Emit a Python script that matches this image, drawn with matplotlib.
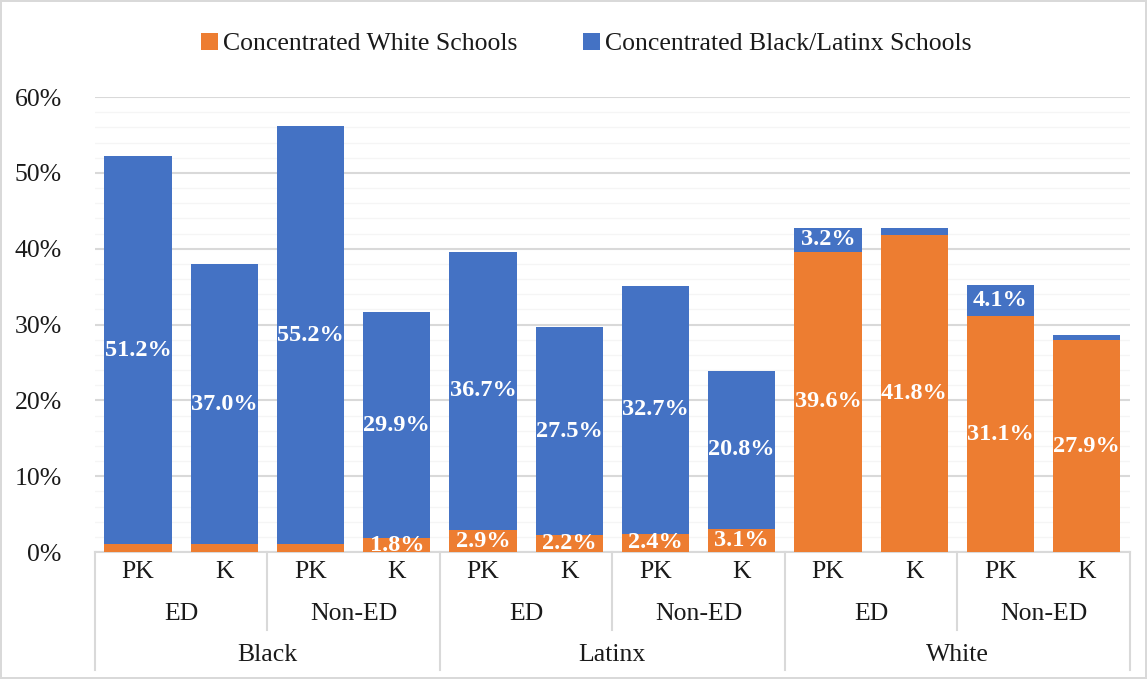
import matplotlib
matplotlib.use('Agg')
import matplotlib.pyplot as plt
import numpy as np

plt.rcParams['font.family'] = ['Liberation Serif', 'DejaVu Serif']

# 数据
races = ['Black', 'Latinx', 'White']
ed_groups = ['ED', 'Non-ED']
grades = ['PK', 'K']
white_schools = [1.0, 1.0, 1.0, 1.8, 2.9, 2.2, 2.4, 3.1, 39.6, 41.8, 31.1, 27.9]
bl_schools = [51.2, 37.0, 55.2, 29.9, 36.7, 27.5, 32.7, 20.8, 3.2, 1.0, 4.1, 0.7]

ORANGE = '#ED7D31'
BLUE = '#4472C4'
GRID = '#d9d9d9'
TXT = '#1a1a1a'
FS = 18.5

fig = plt.figure(figsize=(11.47, 6.79), dpi=100)
fig.patch.set_edgecolor(GRID)
fig.patch.set_linewidth(1.5)
ax = fig.add_axes([0.0828, 0.187, 0.9022, 0.670])

x = np.arange(len(white_schools))
w = np.array(white_schools)
b = np.array(bl_schools)
ax.bar(x, w, width=0.78, color=ORANGE, label='Concentrated White Schools', zorder=3)
ax.bar(x, b, width=0.78, bottom=w, color=BLUE, label='Concentrated Black/Latinx Schools', zorder=3)

# 数值标签
for i in range(len(x)):
    if w[i] >= 1.5:
        ax.text(x[i], w[i] / 2, f'{w[i]:.1f}%', ha='center', va='center', color='white',
                fontsize=17.5, fontweight='bold', zorder=4, clip_on=True)
    if b[i] >= 1.5:
        ax.text(x[i], w[i] + b[i] / 2, f'{b[i]:.1f}%', ha='center', va='center', color='white',
                fontsize=17.5, fontweight='bold', zorder=4, clip_on=True)

ax.set_xlim(-0.5, 11.5)
ax.set_ylim(0, 60)
ax.set_yticks(np.arange(0, 61, 10))
ax.set_yticklabels([f'{v}%' for v in range(0, 61, 10)], fontsize=FS, color=TXT)
ax.set_yticks(np.arange(0, 61, 2), minor=True)
ax.tick_params(axis='y', which='both', length=0, pad=24)
ax.grid(axis='y', which='major', color=GRID, linewidth=1.5, zorder=0)
ax.grid(axis='y', which='minor', color='#f5f5f5', linewidth=1.0, zorder=0)
ax.set_xticks([])
for s in ['top', 'right', 'left']:
    ax.spines[s].set_visible(False)
ax.spines['bottom'].set_color(GRID)
ax.spines['bottom'].set_linewidth(1.5)

# 多级分类轴
trans = ax.get_xaxis_transform()
for i in range(len(x)):
    ax.text(x[i], -0.045, grades[i % 2], transform=trans, ha='center', va='center',
            fontsize=FS, color=TXT)
for j in range(6):
    ax.text(2 * j + 0.5, -0.136, ed_groups[j % 2], transform=trans, ha='center', va='center',
            fontsize=FS, color=TXT)
for k in range(3):
    ax.text(4 * k + 1.5, -0.226, races[k], transform=trans, ha='center', va='center',
            fontsize=FS, color=TXT)
for xb in np.arange(-0.5, 12, 2):
    bottom = -0.259 if (xb + 0.5) % 4 == 0 else -0.171
    ax.plot([xb, xb], [0, bottom], transform=trans, color=GRID, linewidth=1.5, clip_on=False)

ax.legend(loc='center', bbox_to_anchor=(0.511, 0.935), bbox_transform=fig.transFigure,
          ncol=2, frameon=False, fontsize=FS, handlelength=0.65, handleheight=0.65,
          handletextpad=0.2, columnspacing=2.55, labelcolor=TXT)

fig.savefig('out.png', dpi=100)
